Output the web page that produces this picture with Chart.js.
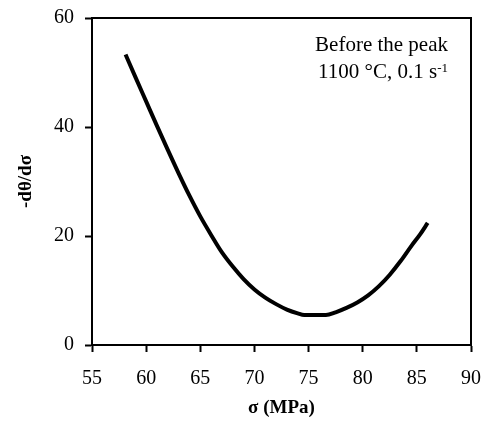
<!DOCTYPE html>
<html>
<head>
<meta charset="utf-8">
<script src="https://cdn.jsdelivr.net/npm/chart.js@4/dist/chart.umd.min.js"></script>
<style>
  html, body { margin: 0; padding: 0; background: #fff; }
  #wrap { width: 489px; height: 421px; }
</style>
</head>
<body>
<div id="wrap"><canvas id="c" width="489" height="421"></canvas></div>
<script>
// stress sigma (MPa) and -dtheta/dsigma
const sigma = [58.1, 59.0, 60.0, 61.0, 62.0, 63.0, 64.0, 65.0, 66.0, 67.0, 68.0, 69.0, 70.0, 71.0, 72.0, 73.0, 74.0, 74.6, 76.6, 77.5, 78.5, 79.5, 80.5, 81.5, 82.5, 83.5, 84.5, 85.3, 86.0];
const dThetaDSigma = [53.3, 49.2, 44.7, 40.2, 35.8, 31.5, 27.4, 23.6, 20.2, 17.0, 14.4, 12.1, 10.2, 8.7, 7.5, 6.5, 5.8, 5.5, 5.5, 6.0, 6.8, 7.8, 9.1, 10.8, 12.9, 15.4, 18.2, 20.3, 22.4];

const xTicks = [55, 60, 65, 70, 75, 80, 85, 90];
const yTicks = [0, 20, 40, 60];

const noteLine1 = 'Before the peak';
const noteLine2 = '1100 \u00b0C, 0.1 s';
const noteSup = '-1';

const serif = '"Liberation Serif", "Times New Roman", serif';

// frame on top/right plus the annotation text
const framePlugin = {
  id: 'frame',
  afterDraw(chart) {
    const { ctx, chartArea: a } = chart;
    ctx.save();
    ctx.strokeStyle = '#000';
    ctx.lineWidth = 2;
    ctx.beginPath();
    ctx.moveTo(a.left, a.top);
    ctx.lineTo(a.right, a.top);
    ctx.lineTo(a.right, a.bottom);
    ctx.stroke();

    ctx.fillStyle = '#000';
    ctx.textAlign = 'right';
    ctx.textBaseline = 'alphabetic';
    const rx = a.right - 23;
    ctx.font = '21px ' + serif;
    ctx.fillText(noteLine1, rx, a.top + 33);
    ctx.font = '13px ' + serif;
    const supW = ctx.measureText(noteSup).width;
    ctx.fillText(noteSup, rx, a.top + 54);
    ctx.font = '21px ' + serif;
    ctx.fillText(noteLine2, rx - supW, a.top + 60);
    ctx.restore();
  }
};

const ctx = document.getElementById('c').getContext('2d');
new Chart(ctx, {
  type: 'line',
  data: {
    datasets: [{
      data: sigma.map((s, i) => ({ x: s, y: dThetaDSigma[i] })),
      borderColor: '#000',
      borderWidth: 4,
      pointRadius: 0,
      fill: false,
      cubicInterpolationMode: 'monotone'
    }]
  },
  options: {
    responsive: false,
    animation: false,
    layout: { padding: { top: 18, right: 18, left: 0, bottom: 0 } },
    plugins: { legend: { display: false }, tooltip: { enabled: false } },
    scales: {
      x: {
        type: 'linear',
        min: 55, max: 90,
        afterBuildTicks: s => { s.ticks = xTicks.map(v => ({ value: v })); },
        afterFit: s => { s.height = 421 - 345; s.paddingLeft = 0; s.paddingRight = 0; },
        grid: { drawOnChartArea: false, drawTicks: true, tickLength: 7, tickWidth: 2, tickColor: '#000' },
        border: { color: '#000', width: 2 },
        ticks: { color: '#000', font: { family: serif, size: 20 }, padding: 15, maxRotation: 0 },
        title: { display: true, text: '\u03c3 (MPa)', color: '#000', font: { family: serif, size: 19, weight: 'bold' }, padding: { top: 0, bottom: 2 } }
      },
      y: {
        min: 0, max: 60,
        afterBuildTicks: s => { s.ticks = yTicks.map(v => ({ value: v })); },
        afterFit: s => { s.width = 92; s.paddingTop = 0; s.paddingBottom = 0; },
        grid: { drawOnChartArea: false, drawTicks: true, tickLength: 7, tickWidth: 2, tickColor: '#000' },
        border: { color: '#000', width: 2 },
        ticks: { color: '#000', font: { family: serif, size: 20 }, padding: 11 },
        title: { display: true, text: '-d\u03b8/d\u03c3', color: '#000', font: { family: serif, size: 19, weight: 'bold' }, padding: { top: 15, bottom: 0 } }
      }
    }
  },
  plugins: [framePlugin]
});
</script>
</body>
</html>
